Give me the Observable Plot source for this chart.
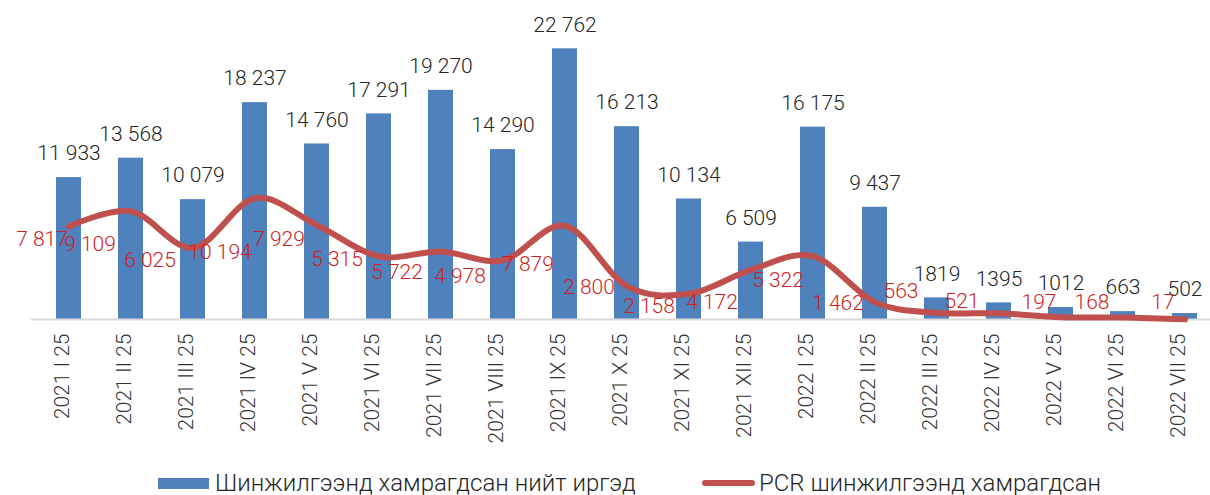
<!DOCTYPE html>
<html>
<head>
<meta charset="utf-8">
<script src="https://cdn.jsdelivr.net/npm/d3@7"></script>
<script src="https://cdn.jsdelivr.net/npm/@observablehq/plot@0.6"></script>
<style>
  html, body { margin: 0; padding: 0; background: #fff; }
  body { width: 1210px; height: 495px; overflow: hidden; font-family: Roboto, "Noto Sans", sans-serif; }
  #legend { position: relative; height: 30px; font-family: Roboto, sans-serif; font-size: 24px; font-weight: 300; color: #262626; }
  .item { position: absolute; top: 6px; height: 24px; display: flex; align-items: center; white-space: nowrap; line-height: 24px; }
  .sw-bar { width: 51px; height: 11px; background: #4f81bd; margin-right: 6px; }
  .sw-line { width: 53px; height: 6px; border-radius: 3px; background: #c0504d; margin-right: 4px; margin-left: 1px; }
</style>
</head>
<body>
<div id="chart"></div>
<div id="legend"></div>
<script>
const categories = ["2021 I 25","2021 II 25","2021 III 25","2021 IV 25","2021 V 25","2021 VI 25","2021 VII 25","2021 VIII 25","2021 IX 25","2021 X 25","2021 XI 25","2021 XII 25","2022 I 25","2022 II 25","2022 III 25","2022 IV 25","2022 V 25","2022 VI 25","2022 VII 25"];
const totalTested = [11933,13568,10079,18237,14760,17291,19270,14290,22762,16213,10134,6509,16175,9437,1819,1395,1012,663,502];
const totalLabels = ["11 933","13 568","10 079","18 237","14 760","17 291","19 270","14 290","22 762","16 213","10 134","6 509","16 175","9 437","1819","1395","1012","663","502"];
const pcrTested = [7817,9109,6025,10194,7929,5315,5722,4978,7879,2800,2158,4172,5322,1462,563,521,197,168,17];
const pcrLabels = ["7 817","9 109","6 025","10 194","7 929","5 315","5 722","4 978","7 879","2 800","2 158","4 172","5 322","1 462","563","521","197","168","17"];
const seriesNames = ["Шинжилгээнд хамрагдсан нийт иргэд", "PCR шинжилгээнд хамрагдсан"];

// label nudges (pixels, relative to each point)
const pcrLabelDx = [-27,-41,-43,-35,-38,-42,-44,-43,-37,-38,-40,-39,-35,-37,-36,-37,-22,-31,-22];
const pcrLabelDy = [13,33,12,54,14,3,21,16,38,1,12,32,24,1,-22,-12,-15,-15,-17];

const rows = categories.map((c, i) => ({cat: c, total: totalTested[i], pcr: pcrTested[i], tl: totalLabels[i], pl: pcrLabels[i]}));

const pcrTextMarks = rows.map((r, i) => Plot.text([r], {
  x: "cat", y: "pcr", text: "pl", dx: pcrLabelDx[i], dy: pcrLabelDy[i],
  fill: "#cc1f1f", fontSize: 21, fontWeight: 300, textAnchor: "middle", lineAnchor: "middle"
}));

const chart = Plot.plot({
  width: 1210,
  height: 465,
  marginLeft: 31,
  marginRight: 0,
  marginTop: 21.7,
  marginBottom: 146,
  style: {fontFamily: "Roboto, sans-serif", fontSize: "21px", background: "#fff"},
  x: {domain: categories, range: [31.3, 1220.7], paddingInner: 0.6, paddingOuter: 0.3, axis: null},
  y: {domain: [0, 25000], axis: null},
  marks: [
    Plot.barY(rows, {x: "cat", y: "total", fill: "#4f81bd"}),
    Plot.ruleY([0], {stroke: "#d9d9d9", strokeWidth: 2}),
    Plot.line(rows, {x: "cat", y: "pcr", stroke: "#c0504d", strokeWidth: 6, curve: "cardinal", tension: 0, strokeLinecap: "round", strokeLinejoin: "round"}),
    Plot.text(rows, {x: "cat", y: "total", text: "tl", dy: -24, fill: "#262626", fontSize: 21, fontWeight: 300, textAnchor: "middle", lineAnchor: "middle"}),
    ...pcrTextMarks,
    Plot.text(rows, {x: "cat", y: () => 0, text: "cat", rotate: -90, textAnchor: "end", lineAnchor: "middle", dx: -7, dy: 14, fill: "#333", fontSize: 21, fontWeight: 300})
  ]
});
document.getElementById("chart").appendChild(chart);

const legend = document.getElementById("legend");
legend.innerHTML = `<div class="item" style="left:158px"><div class="sw-bar"></div><span>${seriesNames[0]}</span></div>` +
                   `<div class="item" style="left:701px"><div class="sw-line"></div><span>${seriesNames[1]}</span></div>`;
</script>
</body>
</html>
